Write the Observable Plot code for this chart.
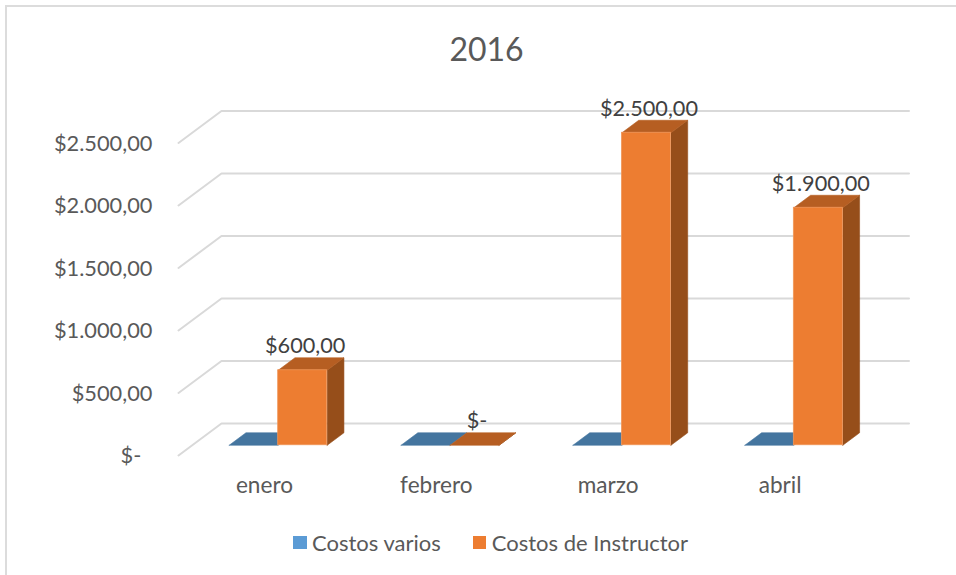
<!DOCTYPE html>
<html lang="es">
<head>
<meta charset="utf-8">
<script src="https://cdn.jsdelivr.net/npm/d3@7"></script>
<script src="https://cdn.jsdelivr.net/npm/@observablehq/plot@0.6"></script>
<style>
  html, body { margin: 0; padding: 0; background: #fff; }
  body { width: 956px; height: 575px; overflow: hidden; font-family: Lato, sans-serif; color: #595959; }
  #chart { position: relative; width: 956px; height: 575px; box-sizing: border-box; overflow: hidden; }
  #frame { position: absolute; left: 4.7px; top: 4.7px; right: -10px; bottom: -10px; border: 2px solid #dcdcdc; }
  #title { position: absolute; left: 0; top: 0; width: 973px; height: 80px; line-height: 98px; text-align: center; font-size: 32px; }
  #plot { position: absolute; left: 0; top: 79.6px; }
  #legend { position: absolute; left: 293px; top: 510px; height: 65px; display: flex; align-items: center; font-size: 22px; }
  #legend i { display: inline-block; width: 13.5px; height: 13.5px; margin-right: 5.5px; }
  #legend span { display: flex; align-items: center; margin-right: 32px; }
</style>
</head>
<body>
<div id="chart">
  <div id="frame"></div>
  <div id="title">2016</div>
  <div id="plot"></div>
  <div id="legend"></div>
</div>
<script>
const meses = ["enero", "febrero", "marzo", "abril"];
const costosVarios = [0, 0, 0, 0];
const costosInstructor = [600, 0, 2500, 1900];
const ticksY = [0, 500, 1000, 1500, 2000, 2500];
const nombres = ["Costos varios", "Costos de Instructor"];
const colores = {
  varios: {front: "#5b9bd5", top: "#44759f", side: "#3a6a94"},
  instructor: {front: "#ed7d31", top: "#b65e22", side: "#964e1a"}
};

// Oblique projection of the 3D box: depth 0..1 shifts x (category units) and y (dollars)
const depthX = 0.25, depthY = 256;
const depthFront = 0.32, depthBack = 0.71, barWidth = 0.285;
const px = (x, d) => x + d * depthX;
const py = (v, d) => v + d * depthY;

const fmt = v => v === 0 ? "$-" : "$" + d3.format(",.2f")(v).replace(/[,.]/g, c => c === "," ? "." : ",");

const grid = ticksY.flatMap(v => [
  {v, x: px(0, 0), y: py(v, 0)},
  {v, x: px(0, 1), y: py(v, 1)},
  {v, x: px(meses.length, 1), y: py(v, 1)}
]);

function bars(values, offset, key) {
  return values.map((v, i) => ({i, v, key, x0: i + 0.5 + offset, x1: i + 0.5 + offset + barWidth}));
}
const serieVarios = bars(costosVarios, -barWidth, "varios");
const serieInstructor = bars(costosInstructor, 0, "instructor");

function topFace(b) {
  return [[b.x0, depthFront], [b.x1, depthFront], [b.x1, depthBack], [b.x0, depthBack], [b.x0, depthFront]]
    .map(([x, d]) => ({id: b.i, x: px(x, d), y: py(b.v, d)}));
}
function sideFace(b) {
  return [[0, depthFront], [0, depthBack], [b.v, depthBack], [b.v, depthFront], [0, depthFront]]
    .map(([v, d]) => ({id: b.i, x: px(b.x1, d), y: py(v, d)}));
}
function faceMark(data, color) {
  return Plot.line(data, {x: "x", y: "y", z: "id", fill: color, stroke: color, strokeWidth: 0.6});
}
function frontMark(data, color, edge) {
  return Plot.rect(data.filter(b => b.v > 0), {
    x1: b => px(b.x0, depthFront), x2: b => px(b.x1, depthFront),
    y1: () => py(0, depthFront), y2: b => py(b.v, depthFront),
    fill: color, stroke: edge, strokeWidth: 0.8
  });
}

const chart = Plot.plot({
  width: 956, height: 430,
  marginLeft: 178, marginRight: 47.5, marginTop: 0, marginBottom: 55,
  x: {domain: [0, meses.length + depthX]},
  y: {domain: [0, 3000]},
  style: {fontFamily: "Lato, sans-serif", background: "transparent", overflow: "visible"},
  marks: [
    Plot.line(grid, {x: "x", y: "y", z: "v", stroke: "#d9d9d9", strokeWidth: 2}),
    Plot.axisY(ticksY, {
      tickSize: 0, tickPadding: 26, label: null, fontSize: 21.8, fill: "#595959", dy: 1,
      tickFormat: v => v === 0 ? "$-\u00a0\u00a0" : fmt(v)
    }),
    Plot.axisX(meses.map((m, i) => i + 0.5), {
      tickSize: 0, tickPadding: 21, label: null, fontSize: 22.6, fill: "#595959",
      tickFormat: t => meses[t - 0.5]
    }),
    faceMark(serieVarios.flatMap(topFace), colores.varios.top),
    faceMark(serieInstructor.flatMap(sideFace), colores.instructor.side),
    faceMark(serieInstructor.flatMap(topFace), colores.instructor.top),
    frontMark(serieInstructor, colores.instructor.front, "#f0975a"),
    Plot.text(serieInstructor, {
      x: b => px((b.x0 + b.x1) / 2, depthFront), y: b => py(b.v, depthFront),
      text: b => fmt(b.v), dx: 2.5, dy: -24, fontSize: 21.7, fill: "#404040"
    })
  ]
});
document.getElementById("plot").appendChild(chart);

const legend = d3.select("#legend");
[colores.varios.front, colores.instructor.front].forEach((c, i) => {
  const s = legend.append("span");
  s.append("i").style("background", c);
  s.append("b").style("font-weight", "normal").text(nombres[i]);
});
</script>
</body>
</html>
